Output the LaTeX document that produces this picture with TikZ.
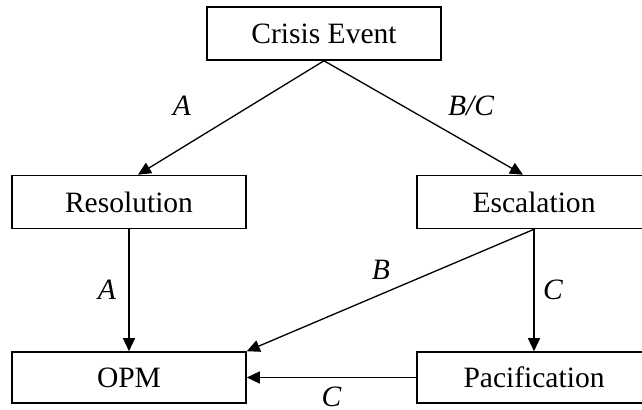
\documentclass[tikz,border=0pt]{standalone}
\usepackage{fontspec}
\setmainfont{Liberation Serif}
\usetikzlibrary{arrows.meta,positioning}
\tikzset{
	node distance=2cm,
	on grid,
	every node/.style={font=\fontsize{16.8}{20}\selectfont},
	box/.style={draw, line width=0.9pt, minimum width=4.68cm, minimum height=1.06cm, inner sep=0pt},
	link/.style={-{Triangle[length=0.26cm,width=0.24cm]}, line width=0.75pt}, % filled heads
	lbl/.style={font=\fontsize{16.8}{20}\selectfont\itshape},
}
\begin{document}
\begin{tikzpicture}
	\useasboundingbox (0,0) rectangle (12.84,8.2);
	\clip (0,0) rectangle (12.84,8.2);

	\node[box] (crisis) at (6.48,7.53) {Crisis Event};
	\node[box, below left=3.37cm and 3.9cm of crisis] (resol) {Resolution};
	\node[box, right=8.1cm of resol] (escal) {Escalation};
	\node[box, below=3.51cm of resol, minimum height=1.02cm] (opm) {OPM};
	\node[box, right=8.1cm of opm, minimum height=1.02cm] (pacif) {Pacification};

	\draw[link] (crisis.south) -- ([xshift=0.18cm]resol.north) node[lbl, midway, xshift=-0.98cm, yshift=0.23cm] {A};
	\draw[link] (crisis.south) -- ([xshift=-0.22cm]escal.north) node[lbl, midway, xshift=0.95cm, yshift=0.23cm] {B/C};
	\draw[link] (resol.south) -- (opm.north) node[lbl, midway, xshift=-0.44cm] {A};
	\draw[link] (escal.south) -- (opm.north east) node[lbl, midway, xshift=-0.19cm, yshift=0.41cm] {B};
	\draw[link] (escal.south) -- (pacif.north) node[lbl, midway, xshift=0.38cm] {C};
	\draw[link] (pacif.west) -- (opm.east) node[lbl, midway, yshift=-0.38cm] {C};
\end{tikzpicture}
\end{document}
